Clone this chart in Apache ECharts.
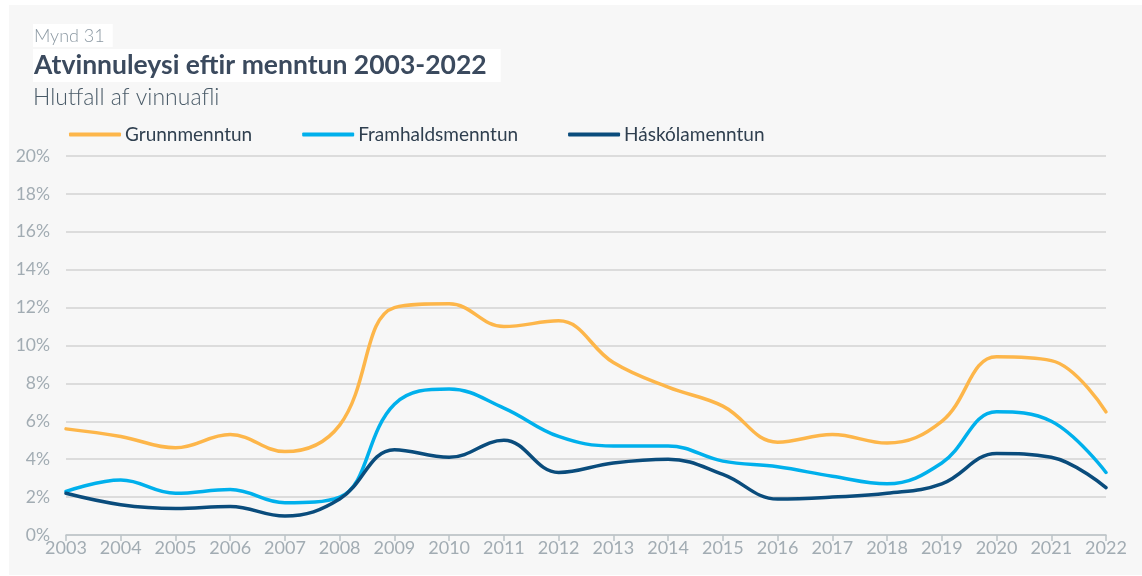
<!DOCTYPE html>
<html>
<head>
<meta charset="utf-8">
<script src="https://cdn.jsdelivr.net/npm/echarts@6/dist/echarts.min.js"></script>
<style>
  html, body { margin:0; padding:0; background:#fff; }
  #chart { width:1142px; height:576px; }
</style>
</head>
<body>
<div id="chart"></div>
<script>
// === Datos ===
const years = ['2003','2004','2005','2006','2007','2008','2009','2010','2011','2012',
               '2013','2014','2015','2016','2017','2018','2019','2020','2021','2022'];
const grunn    = [5.6, 5.2, 4.6, 5.3, 4.4, 5.8, 12.0, 12.2, 11.0, 11.3, 9.1, 7.8, 6.8, 4.9, 5.3, 4.85, 6.0, 9.4, 9.2, 6.5];
const framhald = [2.3, 2.9, 2.2, 2.4, 1.7, 2.0, 6.9, 7.7, 6.7, 5.2, 4.7, 4.7, 3.9, 3.6, 3.1, 2.7, 3.8, 6.5, 6.0, 3.3];
const haskola  = [2.2, 1.6, 1.4, 1.5, 1.0, 1.9, 4.5, 4.1, 5.0, 3.3, 3.8, 4.0, 3.2, 1.9, 2.0, 2.2, 2.7, 4.3, 4.1, 2.5];
const seriesNames = ['Grunnmenntun', 'Framhaldsmenntun', 'Háskólamenntun'];

// === Paleta ===
const orange = '#fdb64a', sky = '#00b0ec', navy = '#0a4c7c';
const txt = '#2f3f4f', axisTxt = '#a2acb3', gridC = '#dcdcdc';
const FONT = 'Lato, "Open Sans", sans-serif';

const line = (name, data, color) => ({
  name, type:'line', data, smooth:0.4, symbol:'none',
  lineStyle:{ width:3.5, color, cap:'round' }, itemStyle:{ color }
});

const chart = echarts.init(document.getElementById('chart'));
chart.setOption({
  backgroundColor:'#fff',
  textStyle:{ fontFamily:FONT },
  graphic:[
    { type:'rect', shape:{ x:9, y:5, width:1133, height:570 }, style:{ fill:'#f7f7f7' }, z:-10 }
  ],
  title:[
    { text:'Mynd 31', left:33, top:24, padding:[3,8,2,1], backgroundColor:'#fff',
      textStyle:{ fontFamily:FONT, fontSize:18, fontWeight:300, color:'#8c99a3' } },
    { text:'Atvinnuleysi eftir menntun 2003-2022', left:33, top:49, padding:[3,14,3,1], backgroundColor:'#fff',
      textStyle:{ fontFamily:FONT, fontSize:26.5, fontWeight:'bold', color:'#3b4a5e' } },
    { text:'Hlutfall af vinnuafli', left:33, top:86, padding:0,
      textStyle:{ fontFamily:FONT, fontSize:23, fontWeight:300, color:'#4a5b68' } }
  ],
  legend:{
    left:64, top:120, itemWidth:52, itemHeight:4, itemGap:50, icon:'roundRect',
    data:seriesNames,
    textStyle:{ fontFamily:FONT, fontSize:19, color:txt, padding:[0,0,0,-1] }
  },
  grid:{ left:66, right:36, top:156, bottom:41, containLabel:false },
  xAxis:{
    type:'category', data:years, boundaryGap:false,
    axisLine:{ lineStyle:{ color:'#bcc3c8', width:1.5 } },
    axisTick:{ show:true, length:6, lineStyle:{ color:'#bcc3c8', width:1.5 } },
    axisLabel:{ fontFamily:FONT, fontSize:18, color:axisTxt, margin:4, interval:0 },
    splitLine:{ show:false }
  },
  yAxis:{
    type:'value', min:0, max:20, interval:2,
    axisLine:{ show:false }, axisTick:{ show:false },
    axisLabel:{ fontFamily:FONT, fontSize:17.5, color:axisTxt, margin:16, formatter:'{value}%' },
    splitLine:{ lineStyle:{ color:gridC, width:2 } }
  },
  series:[
    line(seriesNames[0], grunn, orange),
    line(seriesNames[1], framhald, sky),
    line(seriesNames[2], haskola, navy)
  ]
});
</script>
</body>
</html>
